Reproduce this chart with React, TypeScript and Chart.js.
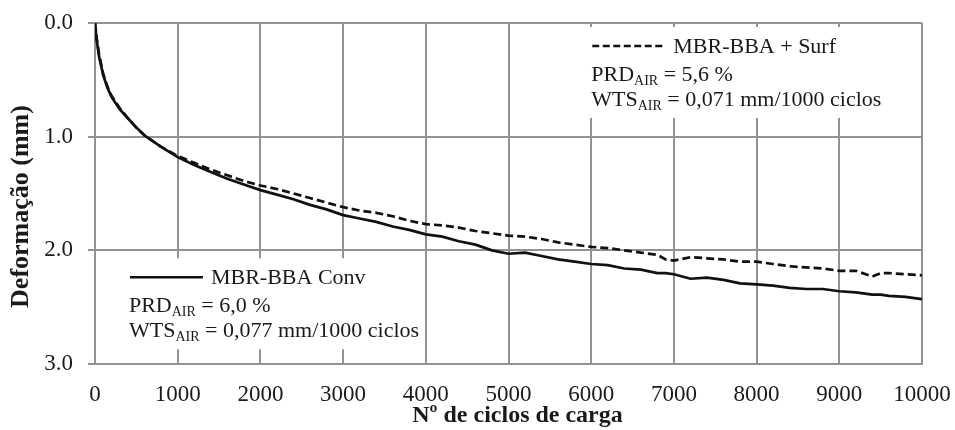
import React, { useEffect, useRef } from "react";
import { Chart, registerables } from "chart.js";

Chart.register(...registerables);

const cycles = [
  0, 20, 50, 100, 150, 200, 300, 400, 500, 600, 800, 1000, 1200, 1400, 1600, 1800, 2000,
  2200, 2400, 2600, 2800, 3000, 3200, 3400, 3600, 3800, 4000, 4200, 4400, 4600, 4800, 5000,
  5200, 5400, 5600, 5800, 6000, 6200, 6400, 6600, 6800, 6900, 7000, 7200, 7400, 7600, 7800,
  8000, 8200, 8400, 8600, 8800, 9000, 9200, 9400, 9500, 9600, 9800, 10000,
];

const convDeformation = [
  0, 0.15, 0.3, 0.46, 0.57, 0.65, 0.76, 0.84, 0.92, 0.99, 1.09, 1.18, 1.25, 1.31, 1.37, 1.42, 1.47,
  1.51, 1.55, 1.6, 1.64, 1.69, 1.72, 1.75, 1.79, 1.82, 1.86, 1.88, 1.92, 1.95, 2.0, 2.03,
  2.02, 2.05, 2.08, 2.1, 2.12, 2.13, 2.16, 2.17, 2.2, 2.2, 2.21, 2.25, 2.24, 2.26, 2.29,
  2.3, 2.31, 2.33, 2.34, 2.34, 2.36, 2.37, 2.39, 2.39, 2.4, 2.41, 2.43,
];

const surfDeformation = [
  0, 0.13, 0.28, 0.45, 0.56, 0.64, 0.75, 0.84, 0.92, 0.99, 1.09, 1.17, 1.23, 1.29, 1.34, 1.39, 1.43,
  1.46, 1.5, 1.54, 1.58, 1.62, 1.65, 1.67, 1.7, 1.74, 1.77, 1.78, 1.8, 1.83, 1.85, 1.87,
  1.88, 1.9, 1.93, 1.95, 1.97, 1.98, 2.0, 2.02, 2.04, 2.08, 2.09, 2.06, 2.07, 2.08, 2.1,
  2.1, 2.12, 2.14, 2.15, 2.16, 2.18, 2.18, 2.23, 2.2, 2.2, 2.21, 2.22,
];

const seriesNames = ["MBR-BBA Conv", "MBR-BBA + Surf"];
const prdValues = ["6,0 %", "5,6 %"];
const wtsValues = ["0,077 mm/1000 ciclos", "0,071 mm/1000 ciclos"];
const xTitle = "Nº de ciclos de carga";
const yTitle = "Deformação (mm)";

const SERIF = '"Liberation Serif", "Times New Roman", serif';
const TEXT = "#1a1a1a";
const GRID = "#939393";

function drawSubText(ctx: CanvasRenderingContext2D, x: number, y: number, main: string, sub: string, rest: string) {
  ctx.font = `22px ${SERIF}`;
  ctx.fillText(main, x, y);
  let cx = x + ctx.measureText(main).width;
  ctx.font = `14px ${SERIF}`;
  ctx.fillText(sub, cx, y + 4);
  cx += ctx.measureText(sub).width;
  ctx.font = `22px ${SERIF}`;
  ctx.fillText(" = " + rest, cx, y);
}

const annotationPlugin = {
  id: "boxes",
  beforeDatasetsDraw(chart: any) {
    const ctx: CanvasRenderingContext2D = chart.ctx;
    const xs = chart.scales.x;
    const ys = chart.scales.y;
    const boxes = [
      { idx: 0, x0: 60, x1: 3450, y0: 2.07, y1: 2.87, dash: [] as number[] },
      { idx: 1, x0: 5650, x1: 9900, y0: 0.035, y1: 0.835, dash: [7, 3.5] },
    ];
    ctx.save();
    for (const b of boxes) {
      const left = xs.getPixelForValue(b.x0);
      const right = xs.getPixelForValue(b.x1);
      const top = ys.getPixelForValue(b.y0);
      const bottom = ys.getPixelForValue(b.y1);
      ctx.fillStyle = "#ffffff";
      ctx.fillRect(left, top, right - left, bottom - top);
      ctx.strokeStyle = "#111";
      ctx.lineWidth = 2.5;
      ctx.setLineDash(b.dash);
      ctx.beginPath();
      ctx.moveTo(left + 30, top + 19);
      ctx.lineTo(left + 103, top + 19);
      ctx.stroke();
      ctx.setLineDash([]);
      ctx.fillStyle = TEXT;
      ctx.textAlign = "left";
      ctx.textBaseline = "alphabetic";
      ctx.font = `22px ${SERIF}`;
      ctx.fillText(seriesNames[b.idx], left + 111, top + 26);
      drawSubText(ctx, left + 29, top + 54, "PRD", "AIR", prdValues[b.idx]);
      drawSubText(ctx, left + 29, top + 79, "WTS", "AIR", wtsValues[b.idx]);
    }
    ctx.restore();
  },
  afterDraw(chart: any) {
    const ctx: CanvasRenderingContext2D = chart.ctx;
    const area = chart.chartArea;
    ctx.save();
    ctx.fillStyle = TEXT;
    ctx.font = `bold 24px ${SERIF}`;
    ctx.textAlign = "center";
    ctx.textBaseline = "alphabetic";
    ctx.fillText(xTitle, (area.left + area.right) / 2 + 9, chart.height - 8);
    ctx.translate(28, (area.top + area.bottom) / 2 + 13);
    ctx.rotate(-Math.PI / 2);
    ctx.font = `bold 26px ${SERIF}`;
    ctx.fillText(yTitle, 0, 0);
    ctx.restore();
  },
};

export default function App() {
  const ref = useRef<HTMLCanvasElement | null>(null);
  useEffect(() => {
    document.body.style.margin = "0";
    const canvas = ref.current;
    if (!canvas) return;
    const chart = new Chart(canvas, {
      type: "line",
      data: {
        datasets: [
          {
            label: seriesNames[0],
            data: cycles.map((c, i) => ({ x: c, y: convDeformation[i] })),
            borderColor: "#111",
            borderWidth: 2.7,
            pointRadius: 0,
            tension: 0,
            fill: false,
          },
          {
            label: seriesNames[1],
            data: cycles.map((c, i) => ({ x: c, y: surfDeformation[i] })),
            borderColor: "#111",
            borderWidth: 2.7,
            borderDash: [8, 4],
            pointRadius: 0,
            tension: 0,
            fill: false,
          },
        ],
      },
      options: {
        animation: false,
        responsive: false,
        maintainAspectRatio: false,
        layout: { padding: { top: 23, right: 33, bottom: 0, left: 0 } },
        plugins: { legend: { display: false }, tooltip: { enabled: false } },
        scales: {
          x: {
            type: "linear",
            min: 0,
            max: 10000,
            afterFit: (s: any) => {
              s.height = 66;
              s.paddingLeft = 0;
              s.paddingRight = 0;
            },
            ticks: {
              stepSize: 1000,
              padding: 17,
              color: TEXT,
              font: { family: SERIF, size: 23 },
              maxRotation: 0,
              callback: (v: any) => String(v),
            },
            grid: { color: GRID, lineWidth: 2, drawTicks: false },
            border: { display: true, color: GRID, width: 2 },
          },
          y: {
            type: "linear",
            reverse: true,
            min: 0,
            max: 3,
            afterFit: (s: any) => {
              s.width = 95;
              s.paddingTop = 0;
              s.paddingBottom = 0;
            },
            ticks: {
              stepSize: 1,
              padding: 15,
              color: TEXT,
              font: { family: SERIF, size: 23 },
              callback: (v: any) => Number(v).toFixed(1),
            },
            grid: { color: GRID, lineWidth: 2, drawTicks: true, tickLength: 7 },
            border: { display: true, color: GRID, width: 2 },
          },
        },
      },
      plugins: [annotationPlugin],
    });
    return () => chart.destroy();
  }, []);
  return (
    <div style={{ width: 955, height: 430 }}>
      <canvas ref={ref} width={955} height={430} style={{ display: "block" }} />
    </div>
  );
}
